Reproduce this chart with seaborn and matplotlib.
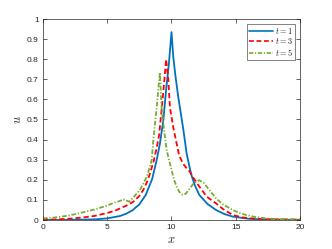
import numpy as np
import pandas as pd
import matplotlib
matplotlib.use("Agg")
import matplotlib.pyplot as plt
import seaborn as sns

# ---- values ----
x_t1 = [0, 2, 4, 5, 6, 6.5, 7, 7.5, 8, 8.5, 8.85, 9.1, 9.37, 9.6, 9.8, 10.0,
        10.14, 10.3, 10.53, 10.75, 10.92, 11.18, 11.52, 11.8, 12.17, 12.8,
        13.46, 14.1, 14.76, 16, 17, 18, 20]
u_t1 = [0, 0.0005, 0.003, 0.008, 0.02, 0.032, 0.05, 0.078, 0.125, 0.205, 0.30,
        0.38, 0.5, 0.66, 0.78, 0.935, 0.81, 0.72, 0.61, 0.52, 0.45, 0.33,
        0.23, 0.175, 0.124, 0.08, 0.05, 0.03, 0.017, 0.006, 0.003, 0.001, 0]

x_t3 = [0, 1, 2, 3, 4, 5, 5.6, 6, 6.5, 7.03, 7.5, 7.8, 8.1, 8.33, 8.6, 8.85,
        9.03, 9.31, 9.49, 9.58, 9.75, 9.88, 10.14, 10.4, 10.6, 10.9, 11.18,
        11.44, 11.7, 12.17, 12.74, 13.46, 14.0, 14.76, 15.5, 16, 17, 18, 20]
u_t3 = [0.002, 0.003, 0.006, 0.012, 0.02, 0.035, 0.046, 0.058, 0.072, 0.091,
        0.12, 0.149, 0.19, 0.232, 0.29, 0.36, 0.42, 0.60, 0.73, 0.80, 0.70,
        0.56, 0.46, 0.38, 0.32, 0.28, 0.257, 0.24, 0.21, 0.166, 0.116, 0.083,
        0.055, 0.025, 0.013, 0.009, 0.005, 0.003, 0.002]

x_t5 = [0, 1, 2, 2.9, 4, 5, 5.5, 6, 6.25, 6.45, 6.7, 7.0, 7.3, 7.55, 7.8, 8.07,
        8.3, 8.46, 8.59, 8.75, 8.85, 9.0, 9.1, 9.18, 9.25, 9.42, 9.62, 9.8,
        10.0, 10.2, 10.4, 10.6, 10.87, 11.1, 11.4, 11.7, 12.15, 12.5, 13.0,
        13.46, 14.0, 14.76, 15.3, 15.8, 16.5, 17.35, 18, 19, 20]
u_t5 = [0.008, 0.013, 0.022, 0.035, 0.052, 0.072, 0.085, 0.095, 0.103, 0.098,
        0.091, 0.11, 0.132, 0.15, 0.18, 0.215, 0.26, 0.30, 0.40, 0.50, 0.56,
        0.67, 0.735, 0.62, 0.54, 0.45, 0.35, 0.30, 0.25, 0.20, 0.166, 0.14,
        0.125, 0.13, 0.155, 0.18, 0.198, 0.185, 0.145, 0.108, 0.078, 0.05,
        0.035, 0.025, 0.015, 0.008, 0.005, 0.004, 0.003]

labels = ["$t = 1$", "$t = 3$", "$t = 5$"]
colors = ["#0072BD", "#FF0000", "#77AC30"]

x_ticks = [0, 5, 10, 15, 20]
y_ticks = [0, 0.1, 0.2, 0.3, 0.4, 0.5, 0.6, 0.7, 0.8, 0.9, 1]
y_ticklabels = ["0", "0.1", "0.2", "0.3", "0.4", "0.5", "0.6", "0.7", "0.8", "0.9", "1"]

df = pd.concat([
    pd.DataFrame({"x": x_t1, "u": u_t1, "t": labels[0]}),
    pd.DataFrame({"x": x_t3, "u": u_t3, "t": labels[1]}),
    pd.DataFrame({"x": x_t5, "u": u_t5, "t": labels[2]}),
])

# ---- style ----
sns.set_theme(style="ticks")
plt.rcParams["font.family"] = ["Liberation Sans", "DejaVu Sans"]
plt.rcParams["mathtext.fontset"] = "cm"

axis_col = "#262626"

fig = plt.figure(figsize=(3.32, 2.49), dpi=100)
ax = fig.add_axes([43 / 332, 29 / 249, 257 / 332, 201 / 249])

sns.lineplot(
    data=df, x="x", y="u", hue="t", style="t",
    palette=dict(zip(labels, colors)),
    dashes={labels[0]: "", labels[1]: (2.9, 1.6), labels[2]: (2.6, 1.0, 0.7, 1.0)},
    estimator=None, sort=False, linewidth=1.3, ax=ax,
)

ax.set_xlim(0, 20)
ax.set_ylim(0, 1)
ax.set_xticks(x_ticks)
ax.set_yticks(y_ticks)
ax.set_yticklabels(y_ticklabels)
ax.tick_params(direction="in", length=3, width=0.5, colors=axis_col,
               labelsize=6, top=True, right=True, pad=3)
for side in ["left", "right", "top", "bottom"]:
    ax.spines[side].set_color(axis_col)
    ax.spines[side].set_linewidth(0.5)

ax.set_xlabel("$x$", fontsize=9, color=axis_col, labelpad=2)
ax.set_ylabel("$u$", fontsize=9, color=axis_col, labelpad=2, rotation=90)

leg = ax.legend(loc="upper right", fontsize=6, frameon=True, fancybox=False,
                edgecolor=axis_col, handlelength=2.8, handletextpad=0.3,
                labelspacing=0.05, borderpad=0.25, borderaxespad=0.55)
leg.get_frame().set_linewidth(0.5)
for h in leg.get_lines():
    h.set_linewidth(1.2)

fig.savefig("out.png", dpi=100)
